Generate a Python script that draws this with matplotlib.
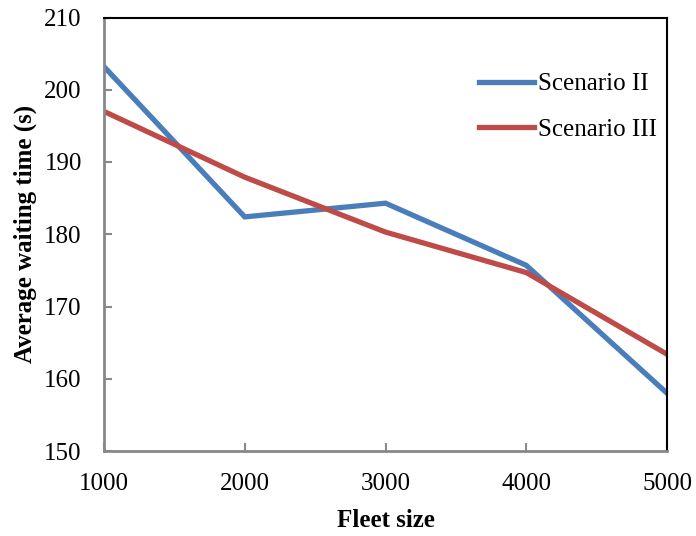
import matplotlib
matplotlib.use('Agg')
import matplotlib.pyplot as plt

fleet = [1000, 2000, 3000, 4000, 5000]
scenario_2 = [203.2, 182.4, 184.3, 175.7, 158.0]
scenario_3 = [197.0, 187.9, 180.3, 174.7, 163.4]

plt.rcParams['font.family'] = ['Liberation Serif', 'DejaVu Serif']

fig = plt.figure(figsize=(6.96, 5.36), dpi=100)
ax = fig.add_axes([104/696, 1 - 451/536, (667-104)/696, (451-17.5)/536])

ax.plot(fleet, scenario_2, color='#4A7EBB', linewidth=3.8, label='Scenario II', solid_joinstyle='miter')
ax.plot(fleet, scenario_3, color='#BE4B48', linewidth=3.8, label='Scenario III', solid_joinstyle='miter')

ax.set_xlim(1000, 5000)
ax.set_ylim(150, 210)
ax.set_xticks(fleet)
ax.set_yticks(range(150, 211, 10))
ax.tick_params(direction='in', length=6, width=1.5, color='#888888', labelsize=18)
ax.tick_params(axis='x', pad=16)
ax.tick_params(axis='y', pad=16)

for side in ('left', 'bottom'):
    ax.spines[side].set_color('#888888')
    ax.spines[side].set_linewidth(2)
for side in ('top', 'right'):
    ax.spines[side].set_color('black')
    ax.spines[side].set_linewidth(1.5)

ax.set_xlabel('Fleet size', fontsize=18, fontweight='bold', labelpad=10)
ax.set_ylabel('Average waiting time (s)', fontsize=18, fontweight='bold', labelpad=5)

ax.legend(loc='upper right', bbox_to_anchor=(1.023, 0.924), frameon=False, fontsize=18,
          handlelength=2.2, handletextpad=0.16, labelspacing=0.91)

fig.savefig('out.png', dpi=100)
